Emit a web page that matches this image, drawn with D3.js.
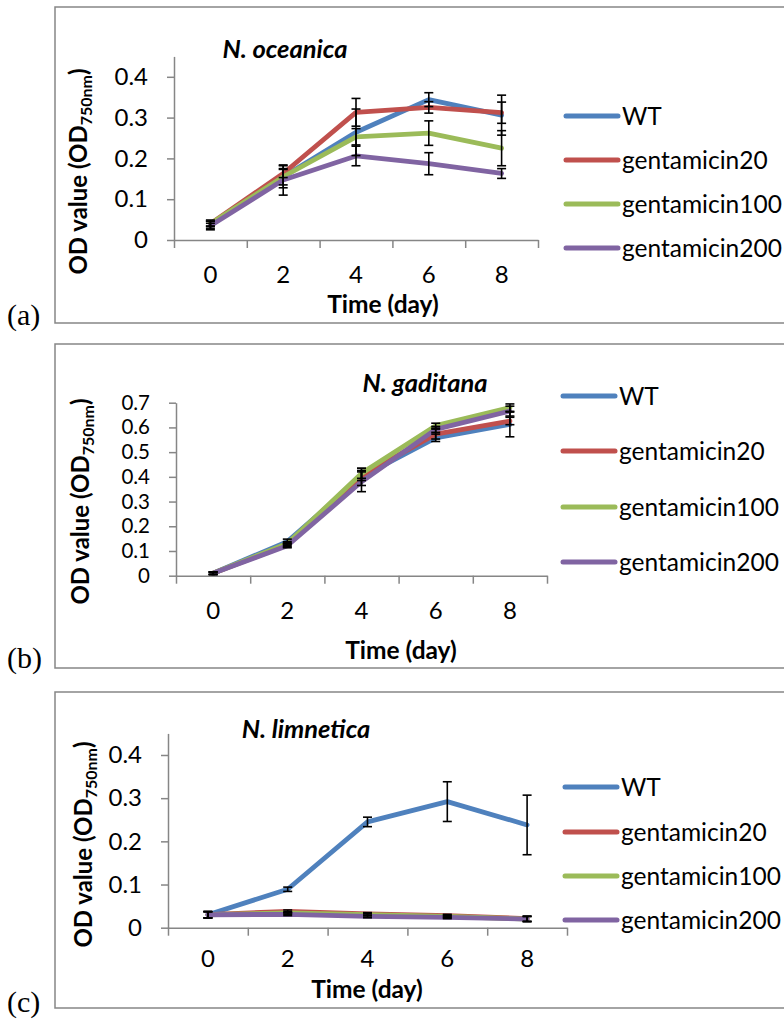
<!DOCTYPE html>
<html>
<head>
<meta charset="utf-8">
<script src="https://cdnjs.cloudflare.com/ajax/libs/d3/7.8.5/d3.min.js"></script>
<style>
  body { margin: 0; background: #fff; }
  svg { display: block; }
  text { font-family: Lato, "Open Sans", sans-serif; fill: #000; }
</style>
</head>
<body>
<script>
(function(){

    //pseudo-global data
    var days = ["0", "2", "4", "6", "8"];
    var seriesNames = ["WT", "gentamicin20", "gentamicin100", "gentamicin200"];
    var seriesColors = ["#4F81BD", "#C0504D", "#9BBB59", "#8064A2"];

    //N. oceanica: one row per series (WT, g20, g100, g200)
    var oceanicaMean = [
        [0.037, 0.155, 0.264, 0.344, 0.306],
        [0.040, 0.163, 0.313, 0.325, 0.312],
        [0.040, 0.155, 0.253, 0.262, 0.225],
        [0.035, 0.147, 0.206, 0.187, 0.163]
    ];
    var oceanicaErr = [
        [0.012, 0.027, 0.057, 0.017, 0.049],
        [0.006, 0.010, 0.034, 0.014, 0.026],
        [0.006, 0.020, 0.020, 0.030, 0.043],
        [0.006, 0.037, 0.024, 0.027, 0.012]
    ];
    var oceanicaTicks = [0, 0.1, 0.2, 0.3, 0.4];

    //N. gaditana
    var gaditanaMean = [
        [0.010, 0.138, 0.400, 0.558, 0.612],
        [0.010, 0.125, 0.405, 0.573, 0.626],
        [0.010, 0.130, 0.414, 0.607, 0.680],
        [0.010, 0.121, 0.380, 0.592, 0.666]
    ];
    var gaditanaErr = [
        [0.005, 0.010, 0.035, 0.015, 0.050],
        [0.005, 0.008, 0.020, 0.020, 0.015],
        [0.005, 0.008, 0.020, 0.010, 0.015],
        [0.005, 0.008, 0.040, 0.012, 0.020]
    ];
    var gaditanaTicks = [0, 0.1, 0.2, 0.3, 0.4, 0.5, 0.6, 0.7];

    //N. limnetica
    var limneticaMean = [
        [0.030, 0.089, 0.245, 0.292, 0.238],
        [0.030, 0.038, 0.032, 0.028, 0.021],
        [0.030, 0.034, 0.030, 0.026, 0.020],
        [0.030, 0.031, 0.026, 0.024, 0.020]
    ];
    var limneticaErr = [
        [0.008, 0.005, 0.011, 0.046, 0.069],
        [0.007, 0.003, 0.003, 0.003, 0.006],
        [0.007, 0.003, 0.003, 0.003, 0.006],
        [0.007, 0.003, 0.003, 0.003, 0.006]
    ];
    var limneticaTicks = [0, 0.1, 0.2, 0.3, 0.4];

    var svg = d3.select("body")
        .append("svg")
        .attr("width", 784)
        .attr("height", 1019);

    //panel layouts (frame, plot area, text anchors)
    drawPanel({
        tag: "(a)", title: "N. oceanica",
        mean: oceanicaMean, err: oceanicaErr, ticks: oceanicaTicks, yMax: 0.45,
        tickFont: 24, xPad: 26,
        frameTop: 7, frameBottom: 323, tagY: 325,
        left: 174, right: 538, bottom: 240, top: 56.4,
        titleX: 285, titleY: 58, xTitleX: 383, xTitleY: 313,
        yTitleX: 87, yTitleY: 171.5,
        legendX: 564, legendY: [116, 160, 204, 248]
    });

    drawPanel({
        tag: "(b)", title: "N. gaditana",
        mean: gaditanaMean, err: gaditanaErr, ticks: gaditanaTicks, yMax: 0.7,
        tickFont: 20.5, xPad: 26,
        frameTop: 344, frameBottom: 668, tagY: 668,
        left: 176, right: 547, bottom: 575.7, top: 402.7,
        titleX: 425, titleY: 392, xTitleX: 401, xTitleY: 659,
        yTitleX: 89, yTitleY: 501.5,
        legendX: 561, legendY: [396, 451, 507, 562]
    });

    drawPanel({
        tag: "(c)", title: "N. limnetica",
        mean: limneticaMean, err: limneticaErr, ticks: limneticaTicks, yMax: 0.45,
        tickFont: 24, xPad: 22,
        frameTop: 692, frameBottom: 1008, tagY: 1012,
        left: 168, right: 567, bottom: 927.7, top: 733.4,
        titleX: 306, titleY: 738, xTitleX: 367, xTitleY: 998,
        yTitleX: 92, yTitleY: 844.5,
        legendX: 563, legendY: [787, 832, 876, 920]
    });

    function drawPanel(p){
        var g = svg.append("g");

        //chart frame (right side runs off the page)
        g.append("rect")
            .attr("x", 55)
            .attr("y", p.frameTop)
            .attr("width", 800)
            .attr("height", p.frameBottom - p.frameTop)
            .attr("fill", "#fff")
            .attr("stroke", "#868686")
            .attr("stroke-width", 1.5);

        //panel tag
        g.append("text")
            .attr("x", 7)
            .attr("y", p.tagY)
            .style("font-family", "'Liberation Serif', serif")
            .style("font-size", "30px")
            .text(p.tag);

        //scales
        var x = d3.scaleBand()
            .domain(days)
            .range([p.left, p.right]);
        var xEdge = d3.scaleLinear()
            .domain([0, days.length])
            .range([p.left, p.right]);
        var y = d3.scaleLinear()
            .domain([0, p.yMax])
            .range([p.bottom, p.top]);

        function cx(i){ return x(days[i]) + x.bandwidth() / 2; }

        //y axis
        var yAxis = g.append("g")
            .attr("transform", "translate(" + p.left + ",0)")
            .call(d3.axisLeft(y)
                .tickValues(p.ticks)
                .tickSize(7)
                .tickSizeOuter(0)
                .tickPadding(19)
                .tickFormat(function(d){ return String(+d.toFixed(1)); }));

        //x axis: tick marks between categories
        var xAxis = g.append("g")
            .attr("transform", "translate(0," + p.bottom + ")")
            .call(d3.axisBottom(xEdge)
                .tickValues(d3.range(days.length + 1))
                .tickSize(8)
                .tickSizeOuter(0)
                .tickFormat(""));

        //x category labels
        var xLabels = g.append("g")
            .attr("transform", "translate(0," + p.bottom + ")")
            .call(d3.axisBottom(x).tickSize(0).tickPadding(p.xPad));
        xLabels.select(".domain").remove();

        [yAxis, xAxis].forEach(function(a){
            a.selectAll(".domain, line")
                .attr("stroke", "#868686")
                .attr("stroke-width", 1.5);
        });
        yAxis.selectAll("text")
            .attr("fill", "#000")
            .style("font-family", "Lato, sans-serif")
            .style("font-size", p.tickFont + "px");
        xLabels.selectAll("text")
            .attr("fill", "#000")
            .style("font-family", "Lato, sans-serif")
            .style("font-size", "24px");

        //series lines
        var line = d3.line()
            .x(function(d, i){ return cx(i); })
            .y(function(d){ return y(d); });

        g.selectAll(".series")
            .data(p.mean)
            .enter()
            .append("path")
            .attr("class", "series")
            .attr("d", line)
            .attr("fill", "none")
            .attr("stroke", function(d, i){ return seriesColors[i]; })
            .attr("stroke-width", 4.8)
            .attr("stroke-linejoin", "round")
            .attr("stroke-linecap", "round");

        //error bars
        var bars = [];
        p.mean.forEach(function(row, s){
            row.forEach(function(v, i){
                bars.push({ i: i, v: v, e: p.err[s][i] });
            });
        });

        var eb = g.selectAll(".errbar")
            .data(bars)
            .enter()
            .append("g")
            .attr("class", "errbar")
            .attr("stroke", "#000")
            .attr("stroke-width", 1.6);

        eb.append("line")
            .attr("x1", function(d){ return cx(d.i); })
            .attr("x2", function(d){ return cx(d.i); })
            .attr("y1", function(d){ return y(d.v + d.e); })
            .attr("y2", function(d){ return y(d.v - d.e); });

        [1, -1].forEach(function(sign){
            eb.append("line")
                .attr("x1", function(d){ return cx(d.i) - 4.5; })
                .attr("x2", function(d){ return cx(d.i) + 4.5; })
                .attr("y1", function(d){ return y(d.v + sign * d.e); })
                .attr("y2", function(d){ return y(d.v + sign * d.e); });
        });

        //chart title
        g.append("text")
            .attr("x", p.titleX)
            .attr("y", p.titleY)
            .attr("text-anchor", "middle")
            .style("font-size", "25.5px")
            .style("font-weight", "bold")
            .style("font-style", "italic")
            .text(p.title);

        //x axis title
        g.append("text")
            .attr("x", p.xTitleX)
            .attr("y", p.xTitleY)
            .attr("text-anchor", "middle")
            .style("font-size", "24.5px")
            .style("font-weight", "bold")
            .text("Time (day)");

        //y axis title with subscript
        var yt = g.append("text")
            .attr("transform", "translate(" + p.yTitleX + "," + p.yTitleY + ") rotate(-90)")
            .attr("text-anchor", "middle")
            .style("font-size", "24px")
            .style("font-weight", "bold");
        yt.append("tspan").text("OD value (OD");
        yt.append("tspan")
            .attr("dy", 5)
            .style("font-size", "16px")
            .text("750nm");
        yt.append("tspan")
            .attr("dy", -5)
            .text(")");

        //legend
        var leg = g.selectAll(".legend")
            .data(seriesNames)
            .enter()
            .append("g")
            .attr("class", "legend")
            .attr("transform", function(d, i){
                return "translate(" + p.legendX + "," + p.legendY[i] + ")";
            });

        leg.append("line")
            .attr("x1", 2)
            .attr("x2", 54)
            .attr("stroke", function(d, i){ return seriesColors[i]; })
            .attr("stroke-width", 5)
            .attr("stroke-linecap", "round");

        leg.append("text")
            .attr("x", 58)
            .attr("y", 8.5)
            .style("font-size", "24.5px")
            .text(function(d){ return d; });
    }

})();
</script>
</body>
</html>
